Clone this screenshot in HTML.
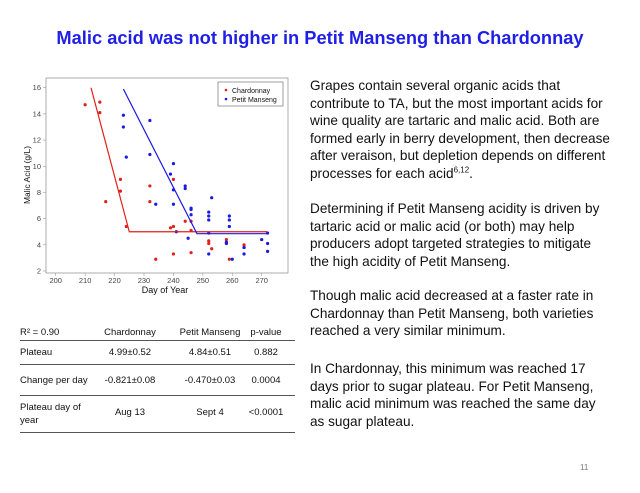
<!DOCTYPE html>
<html><head><meta charset="utf-8"><style>
body{margin:0;width:640px;height:493px;background:#fff;position:relative;overflow:hidden;font-family:"Liberation Sans",sans-serif}
.t{position:absolute;left:0;width:640px;top:27px;text-align:center;color:#1f1fe6;font-weight:bold;font-size:18.3px}
.p{position:absolute;left:310px;width:330px;font-size:13.6px;line-height:17.6px;color:#111;white-space:nowrap}
.tb{position:absolute;font-size:9.5px;color:#111}
.ln{position:absolute;left:20px;width:275px;height:1px;background:#555}
sup{font-size:8px;line-height:0}
</style></head><body>
<div class="t">Malic acid was not higher in Petit Manseng than Chardonnay</div>
<svg id="s" width="300" height="300" style="position:absolute;left:0;top:0" font-family="Liberation Sans" font-size="7.5" fill="#444"></svg>
<div class="p" style="top:77px">Grapes contain several organic acids that<br>contribute to TA, but the most important acids for<br>wine quality are tartaric and malic acid. Both are<br>formed early in berry development, then decrease<br>after veraison, but depletion depends on different<br>processes for each acid<sup>6,12</sup>.</div>
<div class="p" style="top:200px">Determining if Petit Manseng acidity is driven by<br>tartaric acid or malic acid (or both) may help<br>producers adopt targeted strategies to mitigate<br>the high acidity of Petit Manseng.</div>
<div class="p" style="top:287px">Though malic acid decreased at a faster rate in<br>Chardonnay than Petit Manseng, both varieties<br>reached a very similar minimum.</div>
<div class="p" style="top:360px">In Chardonnay, this minimum was reached 17<br>days prior to sugar plateau. For Petit Manseng,<br>malic acid minimum was reached the same day<br>as sugar plateau.</div>
<div class="tb" style="left:20px;top:327px">R² = 0.90</div>
<div class="tb" style="left:88px;width:84px;text-align:center;top:327px">Chardonnay</div>
<div class="tb" style="left:168px;width:84px;text-align:center;top:327px">Petit Manseng</div>
<div class="tb" style="left:245px;width:42px;text-align:center;top:327px">p-value</div>
<div class="ln" style="top:340px"></div>
<div class="tb" style="left:20px;top:347px">Plateau</div>
<div class="tb" style="left:88px;width:84px;text-align:center;top:347px">4.99±0.52</div>
<div class="tb" style="left:168px;width:84px;text-align:center;top:347px">4.84±0.51</div>
<div class="tb" style="left:245px;width:42px;text-align:center;top:347px">0.882</div>
<div class="ln" style="top:364px"></div>
<div class="tb" style="left:20px;top:375px">Change per day</div>
<div class="tb" style="left:88px;width:84px;text-align:center;top:375px">-0.821±0.08</div>
<div class="tb" style="left:168px;width:84px;text-align:center;top:375px">-0.470±0.03</div>
<div class="tb" style="left:245px;width:42px;text-align:center;top:375px">0.0004</div>
<div class="ln" style="top:395px"></div>
<div class="tb" style="left:20px;top:401px;line-height:13px">Plateau day of<br>year</div>
<div class="tb" style="left:88px;width:84px;text-align:center;top:407px">Aug 13</div>
<div class="tb" style="left:168px;width:84px;text-align:center;top:407px">Sept 4</div>
<div class="tb" style="left:245px;width:42px;text-align:center;top:407px">&lt;0.0001</div>
<div class="ln" style="top:432px"></div>
<div style="position:absolute;left:580px;top:463px;font-size:8px;color:#777">11</div>
<script>
var s=document.getElementById('s'),h='';
function X(d){return 55.7+(d-200)*2.943}function Y(v){return 271-(v-2)*13.09}
h+='<rect x="46" y="78" width="242" height="195" fill="none" stroke="#999" stroke-width="0.8"/>';
for(var d=200;d<=270;d+=10){h+='<line x1="'+X(d)+'" y1="273" x2="'+X(d)+'" y2="276" stroke="#999" stroke-width="0.6"/><text x="'+X(d)+'" y="283" text-anchor="middle">'+d+'</text>';}
for(var v=2;v<=16;v+=2){h+='<line x1="43" y1="'+Y(v)+'" x2="46" y2="'+Y(v)+'" stroke="#999" stroke-width="0.6"/><text x="41" y="'+(Y(v)+2.5)+'" text-anchor="end">'+v+'</text>';}
h+='<text x="165" y="293" text-anchor="middle" font-size="9" fill="#111">Day of Year</text>';
h+='<text transform="translate(30,175) rotate(-90)" text-anchor="middle" font-size="8.5" fill="#111">Malic Acid (g/L)</text>';
var R=[[210,14.7],[215,14.9],[215,14.1],[217,7.3],[222,9],[222,8.1],[224,5.4],[232,8.5],[232,7.3],[234,2.9],[239,5.3],[240,9],[240,5.4],[240,3.3],[244,5.8],[246,5.8],[246,5.1],[246,3.4],[252,4.3],[252,4.1],[253,3.7],[258,4.4],[259,2.9],[264,4],[264,3.8]];
var B=[[223,13.9],[223,13],[224,10.7],[232,13.5],[232,10.9],[234,7.1],[239,9.4],[240,10.2],[240,8.2],[240,7.1],[241,5],[244,8.5],[244,8.3],[245,4.5],[246,6.8],[246,6.7],[246,6.3],[252,6.5],[252,6.2],[252,5.9],[252,4.9],[252,3.3],[253,7.6],[258,4.2],[258,4.1],[259,6.2],[259,5.9],[259,5.4],[260,2.9],[264,3.8],[264,3.3],[270,4.4],[272,4.9],[272,4.1],[272,3.5]];
R.forEach(function(p){h+='<circle cx="'+X(p[0])+'" cy="'+Y(p[1])+'" r="1.6" fill="#e0201a"/>'});
B.forEach(function(p){h+='<circle cx="'+X(p[0])+'" cy="'+Y(p[1])+'" r="1.6" fill="#1a1ae0"/>'});
h+='<polyline points="'+X(212)+','+Y(16)+' '+X(225)+','+Y(5)+' '+X(272)+','+Y(5)+'" fill="none" stroke="#e0201a" stroke-width="1.2"/>';
h+='<polyline points="'+X(223)+','+Y(15.9)+' '+X(248)+','+Y(4.85)+' '+X(272)+','+Y(4.85)+'" fill="none" stroke="#1a1ae0" stroke-width="1.2"/>';
h+='<rect x="218" y="82" width="65" height="24" fill="#fff" stroke="#777" stroke-width="0.7"/>';
h+='<circle cx="226" cy="90" r="1.3" fill="#e0201a"/><text x="232" y="93" fill="#111" font-size="7">Chardonnay</text>';
h+='<circle cx="226" cy="99" r="1.3" fill="#1a1ae0"/><text x="232" y="102" fill="#111" font-size="7">Petit Manseng</text>';
s.innerHTML=h;
</script>
</body></html>
